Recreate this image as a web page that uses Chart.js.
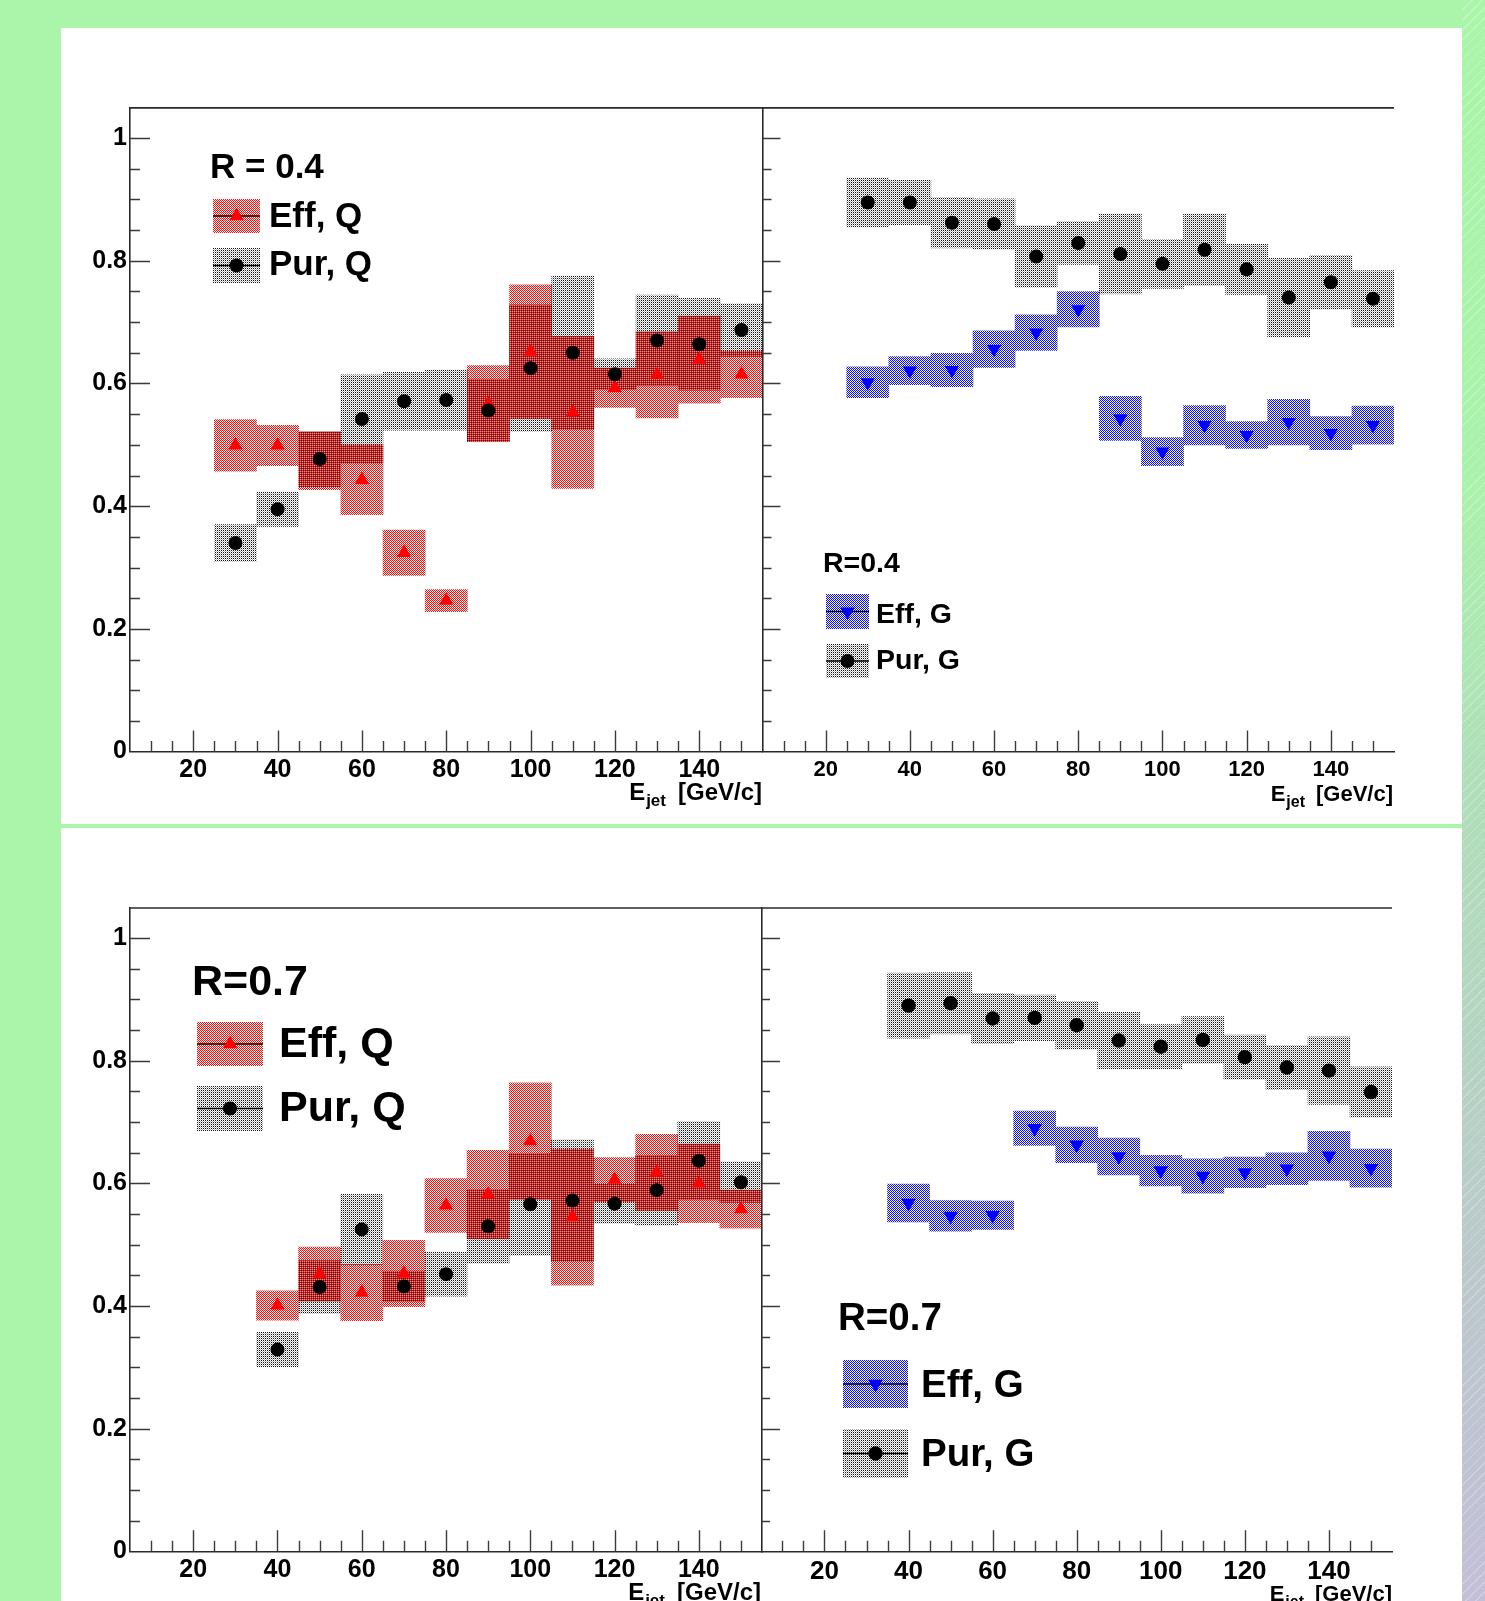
<!DOCTYPE html>
<html>
<head>
<meta charset="utf-8">
<script src="https://cdn.jsdelivr.net/npm/chart.js@4.4.1/dist/chart.umd.min.js"></script>
<style>
html,body{margin:0;padding:0;}
body{width:1485px;height:1601px;background:#aaf5aa;position:relative;overflow:hidden;}
.panel{position:absolute;background:#ffffff;}
#strip{position:absolute;left:1462px;top:0;width:23px;height:1601px;
  background:repeating-linear-gradient(135deg,rgba(255,255,255,0.25) 0 1px,transparent 1px 7px),
  linear-gradient(to bottom,#aaf5aa 0%,#aaf2ab 30%,#b0dfb9 48%,#b4d6c0 62%,#bcc8cc 80%,#c3bfd8 100%);}
canvas{position:absolute;}
</style>
</head>
<body>
<div class="panel" style="left:61px;top:28px;width:1401px;height:796px;"></div>
<div class="panel" style="left:61px;top:828px;width:1401px;height:773px;"></div>
<div id="strip"></div>
<canvas id="cTL" width="701" height="760" style="left:62px;top:60px;"></canvas>
<canvas id="cTR" width="710" height="760" style="left:752px;top:60px;"></canvas>
<canvas id="cBL" width="701" height="741" style="left:62px;top:860px;"></canvas>
<canvas id="cBR" width="710" height="741" style="left:752px;top:860px;"></canvas>
<script>
// ---------------- data ----------------
const energiesR04 = [30, 40, 50, 60, 70, 80, 90, 100, 110, 120, 130, 140, 150];
const energiesR07 = [40, 50, 60, 70, 80, 90, 100, 110, 120, 130, 140, 150];

// R = 0.4, quark jets
const effQ04    = [0.499, 0.499, 0.474, 0.443, 0.324, 0.246, 0.567, 0.652, 0.553, 0.593, 0.614, 0.639, 0.615];
const effQ04Err = [0.042, 0.033, 0.047, 0.057, 0.037, 0.018, 0.062, 0.109, 0.124, 0.032, 0.070, 0.071, 0.038];
const purQ04    = [0.340, 0.395, 0.477, 0.542, 0.571, 0.573, 0.556, 0.625, 0.650, 0.615, 0.670, 0.664, 0.687];
const purQ04Err = [0.030, 0.028, 0.045, 0.072, 0.047, 0.049, 0.051, 0.103, 0.125, 0.025, 0.074, 0.075, 0.043];

// R = 0.4, gluon jets
const effG04    = [0.602, 0.621, 0.622, 0.656, 0.683, 0.721, 0.543, 0.489, 0.532, 0.516, 0.537, 0.519, 0.532];
const effG04Err = [0.025, 0.023, 0.027, 0.030, 0.029, 0.029, 0.036, 0.023, 0.032, 0.022, 0.037, 0.027, 0.031];
const purG04    = [0.895, 0.895, 0.862, 0.860, 0.807, 0.829, 0.811, 0.795, 0.818, 0.786, 0.740, 0.765, 0.738];
const purG04Err = [0.040, 0.036, 0.041, 0.041, 0.050, 0.035, 0.065, 0.040, 0.058, 0.041, 0.064, 0.044, 0.046];

// R = 0.7, quark jets
const effQ07    = [0.401, 0.452, 0.422, 0.453, 0.564, 0.582, 0.669, 0.545, 0.606, 0.618, 0.600, 0.558];
const effQ07Err = [0.024, 0.044, 0.046, 0.054, 0.044, 0.072, 0.095, 0.111, 0.036, 0.062, 0.064, 0.031];
const purQ07    = [0.329, 0.431, 0.525, 0.432, 0.452, 0.530, 0.566, 0.572, 0.567, 0.589, 0.637, 0.602];
const purQ07Err = [0.028, 0.043, 0.057, 0.025, 0.036, 0.060, 0.083, 0.099, 0.032, 0.057, 0.064, 0.033];

// R = 0.7, gluon jets
const effG07    = [0.568, 0.547, 0.548, 0.690, 0.663, 0.644, 0.621, 0.612, 0.618, 0.624, 0.645, 0.625];
const effG07Err = [0.031, 0.025, 0.023, 0.028, 0.029, 0.030, 0.025, 0.028, 0.025, 0.026, 0.040, 0.031];
const purG07    = [0.890, 0.894, 0.869, 0.870, 0.858, 0.833, 0.823, 0.834, 0.806, 0.789, 0.784, 0.749];
const purG07Err = [0.053, 0.050, 0.041, 0.037, 0.039, 0.046, 0.036, 0.038, 0.036, 0.036, 0.055, 0.041];

// axes
const xTickValues = [20, 40, 60, 80, 100, 120, 140];
const xTickLabels = ['20', '40', '60', '80', '100', '120', '140'];
const yTickValues = [0, 0.2, 0.4, 0.6, 0.8, 1.0];
const yTickLabels = ['0', '0.2', '0.4', '0.6', '0.8', '1'];
const xRange = [5, 155];
const yRange = [0, 1.05];
const xMinorStep = 5;
const yMinorStep = 0.05;
const xTitleParts = ['E', 'jet', '[GeV/c]'];

// legend texts
const legendTitles = ['R = 0.4', 'R=0.4', 'R=0.7', 'R=0.7'];
const effLabels = ['Eff, Q', 'Eff, G', 'Eff, Q', 'Eff, G'];
const purLabels = ['Pur, Q', 'Pur, G', 'Pur, Q', 'Pur, G'];

// ---------------- styling helpers ----------------
const FONT = '"Liberation Sans", Arial, Helvetica, sans-serif';
const AXIS_COLOR = '#2a2a2a';

function tile(fn) {
  const c = document.createElement('canvas');
  c.width = 2; c.height = 2;
  fn(c.getContext('2d'));
  return c;
}
// stipple patterns: coloured pixels on a checkerboard, the rest transparent,
// so overlapping boxes combine into a darker mixed texture
const tileRed = tile(g => {
  g.fillStyle = 'rgba(255,0,0,0.95)'; g.fillRect(0,0,1,1); g.fillRect(1,1,1,1);
  g.fillStyle = 'rgba(255,0,0,0.06)'; g.fillRect(1,0,1,1); g.fillRect(0,1,1,1);
});
const tileBlue = tile(g => {
  g.fillStyle = 'rgba(0,0,255,0.95)'; g.fillRect(0,0,1,1); g.fillRect(1,1,1,1);
  g.fillStyle = 'rgba(0,0,255,0.06)'; g.fillRect(1,0,1,1); g.fillRect(0,1,1,1);
});
const tileGray = tile(g => {
  g.fillStyle = 'rgba(0,0,0,0.92)'; g.fillRect(1,0,1,1);
  g.fillStyle = 'rgba(0,0,0,0.30)'; g.fillRect(0,1,1,1);
});

function makeDeco(cfg, pats) {
  return {
    id: 'deco_' + cfg.id,
    afterDatasetsDraw(chart) {
      const ctx = chart.ctx;
      const a = chart.chartArea;
      const xs = chart.scales.x, ys = chart.scales.y;
      ctx.save();
      ctx.strokeStyle = AXIS_COLOR;
      ctx.lineWidth = 1.6;
      // top frame line
      ctx.beginPath();
      ctx.moveTo(a.left, a.top + 0.5);
      ctx.lineTo(a.right, a.top + 0.5);
      ctx.stroke();
      // x tick marks (inside the frame, pointing up)
      ctx.lineWidth = 1.4;
      ctx.strokeStyle = '#3a3a3a';
      ctx.beginPath();
      for (let v = xRange[0] + xMinorStep; v < xRange[1] - 1e-6; v += xMinorStep) {
        const px = Math.round(xs.getPixelForValue(v)) + 0.5;
        const major = xTickValues.some(t => Math.abs(t - v) < 1e-6);
        const len = major ? cfg.xMajorLen : cfg.xMinorLen;
        ctx.moveTo(px, a.bottom);
        ctx.lineTo(px, a.bottom - len);
      }
      ctx.stroke();
      // y tick marks (pointing right)
      ctx.beginPath();
      for (let v = yMinorStep; v <= 1.0 + 1e-6; v += yMinorStep) {
        const py = Math.round(ys.getPixelForValue(v)) + 0.5;
        const major = yTickValues.some(t => Math.abs(t - v) < 1e-6);
        const len = major ? cfg.yMajorLen : cfg.yMinorLen;
        ctx.moveTo(a.left, py);
        ctx.lineTo(a.left + len, py);
      }
      ctx.stroke();

      // axis title  E_jet [GeV/c]
      ctx.fillStyle = '#000';
      ctx.textBaseline = 'alphabetic';
      ctx.textAlign = 'right';
      const f = cfg.titleFont;
      const base = a.bottom + cfg.titleDy;
      let xr = cfg.titleRight - cfg.ox;
      ctx.font = 'bold ' + f + 'px ' + FONT;
      ctx.fillText(xTitleParts[2], xr, base);
      xr -= ctx.measureText(xTitleParts[2]).width + f * 0.5;
      const fs = Math.round(f * 0.72);
      ctx.font = 'bold ' + fs + 'px ' + FONT;
      ctx.fillText(xTitleParts[1], xr, base + f * 0.27);
      xr -= ctx.measureText(xTitleParts[1]).width + 1;
      ctx.font = 'bold ' + f + 'px ' + FONT;
      ctx.fillText(xTitleParts[0], xr, base);

      // legend
      const L = cfg.legend;
      const ox = cfg.ox, oy = cfg.oy;
      ctx.textAlign = 'left';
      ctx.font = 'bold ' + L.titleSize + 'px ' + FONT;
      ctx.fillText(legendTitles[cfg.idx], L.titleX - ox, L.titleY - oy);
      const rows = [
        {sw: L.effSw, text: effLabels[cfg.idx], ty: L.effTy, pat: pats.eff, style: 'triangle', rot: cfg.effRot, color: cfg.effColor, r: cfg.triR},
        {sw: L.purSw, text: purLabels[cfg.idx], ty: L.purTy, pat: pats.gray, style: 'circle', rot: 0, color: '#000', r: cfg.dotR}
      ];
      rows.forEach(r => {
        const sx = r.sw[0] - ox, sy = r.sw[1] - oy, sw = r.sw[2], sh = r.sw[3];
        ctx.fillStyle = r.pat;
        ctx.fillRect(sx, sy, sw, sh);
        const cy = sy + sh / 2;
        ctx.strokeStyle = '#000';
        ctx.lineWidth = 1.3;
        ctx.beginPath();
        ctx.moveTo(sx, cy); ctx.lineTo(sx + sw, cy);
        ctx.stroke();
        ctx.fillStyle = r.color;
        Chart.helpers.drawPoint(ctx, {pointStyle: r.style, rotation: r.rot, radius: r.r, borderWidth: 0}, sx + sw / 2, cy);
        ctx.fillStyle = '#000';
        ctx.font = 'bold ' + L.textSize + 'px ' + FONT;
        ctx.fillText(r.text, L.textX - ox, r.ty - oy);
      });
      ctx.restore();
    }
  };
}

function buildPanel(cfg) {
  const canvas = document.getElementById(cfg.id);
  const ctx = canvas.getContext('2d');
  const pats = {
    gray: ctx.createPattern(tileGray, 'repeat'),
    eff: ctx.createPattern(cfg.kind === 'Q' ? tileRed : tileBlue, 'repeat')
  };
  const E = cfg.E;
  const datasets = [
    {
      type: 'bar', label: 'pur-sys',
      data: E.map((e, i) => ({x: e, y: [cfg.pur[i] - cfg.purErr[i], cfg.pur[i] + cfg.purErr[i]]})),
      backgroundColor: pats.gray, borderWidth: 0, grouped: false,
      barPercentage: 1, categoryPercentage: 1, order: 3
    },
    {
      type: 'bar', label: 'eff-sys',
      data: E.map((e, i) => ({x: e, y: [cfg.eff[i] - cfg.effErr[i], cfg.eff[i] + cfg.effErr[i]]})),
      backgroundColor: pats.eff, borderWidth: 0, grouped: false,
      barPercentage: 1, categoryPercentage: 1, order: 2
    },
    {
      type: 'scatter', label: effLabels[cfg.idx],
      data: E.map((e, i) => ({x: e, y: cfg.eff[i]})),
      pointStyle: 'triangle', pointRotation: cfg.effRot, pointRadius: cfg.triR,
      pointBackgroundColor: cfg.effColor, pointBorderWidth: 0, showLine: false, order: 1
    },
    {
      type: 'scatter', label: purLabels[cfg.idx],
      data: E.map((e, i) => ({x: e, y: cfg.pur[i]})),
      pointStyle: 'circle', pointRadius: cfg.dotR,
      pointBackgroundColor: '#000', pointBorderWidth: 0, showLine: false, order: 0
    }
  ];
  new Chart(ctx, {
    type: 'bar',
    data: {datasets},
    options: {
      responsive: false,
      animation: false,
      devicePixelRatio: 1,
      events: [],
      layout: {autoPadding: false, padding: {left: 0, right: cfg.padRight, top: cfg.padTop, bottom: 0}},
      plugins: {legend: {display: false}, tooltip: {enabled: false}},
      scales: {
        x: {
          type: 'linear', min: xRange[0], max: xRange[1], offset: false,
          afterBuildTicks: s => { s.ticks = xTickValues.map(v => ({value: v})); },
          afterFit: s => { s.height = cfg.xAxisH; s.paddingLeft = 0; s.paddingRight = 0; },
          ticks: {
            callback: (v, i) => xTickLabels[i],
            font: {family: FONT, weight: 'bold', size: cfg.xFont},
            color: '#000', padding: cfg.xPad, maxRotation: 0, autoSkip: false
          },
          grid: {display: false, drawTicks: false, tickLength: 0},
          border: {display: true, color: AXIS_COLOR, width: 1.6}
        },
        y: {
          type: 'linear', min: yRange[0], max: yRange[1],
          afterBuildTicks: s => { s.ticks = yTickValues.map(v => ({value: v})); },
          afterFit: s => { s.width = cfg.yAxisW; s.paddingTop = 0; s.paddingBottom = 0; },
          ticks: {
            display: cfg.yLabels,
            callback: (v, i) => yTickLabels[i],
            font: {family: FONT, weight: 'bold', size: cfg.yFont},
            color: '#000', padding: 3, autoSkip: false
          },
          grid: {display: false, drawTicks: false, tickLength: 0},
          border: {display: true, color: AXIS_COLOR, width: 1.6}
        }
      }
    },
    plugins: [makeDeco(cfg, pats)]
  });
}

buildPanel({
  id: 'cTL', idx: 0, ox: 62, oy: 60, kind: 'Q', effColor: '#ff0000', effRot: 0,
  E: energiesR04, eff: effQ04, effErr: effQ04Err, pur: purQ04, purErr: purQ04Err,
  padTop: 47.4, padRight: 0.5, yAxisW: 68, xAxisH: 68.4, yLabels: true, yFont: 25, xFont: 25, xPad: 4,
  yMajorLen: 20, yMinorLen: 10, xMajorLen: 21, xMinorLen: 10.5, triR: 8.2, dotR: 7,
  titleFont: 24, titleRight: 762, titleDy: 48.4,
  legend: {titleX: 210, titleY: 178, titleSize: 35, textX: 269, textSize: 35,
           effSw: [213, 199, 47, 34], effTy: 227, purSw: [213, 248, 47, 35], purTy: 275}
});
buildPanel({
  id: 'cTR', idx: 1, ox: 752, oy: 60, kind: 'G', effColor: '#0000ff', effRot: 180,
  E: energiesR04, eff: effG04, effErr: effG04Err, pur: purG04, purErr: purG04Err,
  padTop: 47.4, padRight: 68, yAxisW: 10.5, xAxisH: 68.4, yLabels: false, yFont: 25, xFont: 22, xPad: 5,
  yMajorLen: 18, yMinorLen: 9, xMajorLen: 21, xMinorLen: 10.5, triR: 8.2, dotR: 7,
  titleFont: 22, titleRight: 1393, titleDy: 49,
  legend: {titleX: 823, titleY: 572, titleSize: 28.5, textX: 876, textSize: 28.5,
           effSw: [826, 594, 43, 35], effTy: 623, purSw: [826, 644, 43, 34], purTy: 669}
});
buildPanel({
  id: 'cBL', idx: 2, ox: 62, oy: 860, kind: 'Q', effColor: '#ff0000', effRot: 0,
  E: energiesR07, eff: effQ07, effErr: effQ07Err, pur: purQ07, purErr: purQ07Err,
  padTop: 47.5, padRight: 1, yAxisW: 68, xAxisH: 49.7, yLabels: true, yFont: 25, xFont: 25, xPad: 4,
  yMajorLen: 20, yMinorLen: 10, xMajorLen: 21, xMinorLen: 10.5, triR: 8.2, dotR: 7,
  titleFont: 24, titleRight: 761, titleDy: 48.4,
  legend: {titleX: 192, titleY: 995, titleSize: 43, textX: 279, textSize: 43,
           effSw: [197, 1022, 66, 44], effTy: 1057, purSw: [197, 1086, 66, 45], purTy: 1121}
});
buildPanel({
  id: 'cBR', idx: 3, ox: 752, oy: 860, kind: 'G', effColor: '#0000ff', effRot: 180,
  E: energiesR07, eff: effG07, effErr: effG07Err, pur: purG07, purErr: purG07Err,
  padTop: 47.5, padRight: 70, yAxisW: 9.4, xAxisH: 49.7, yLabels: false, yFont: 25, xFont: 26, xPad: 5,
  yMajorLen: 18.5, yMinorLen: 8.6, xMajorLen: 21, xMinorLen: 10.5, triR: 8.4, dotR: 7.2,
  titleFont: 22, titleRight: 1392, titleDy: 49.5,
  legend: {titleX: 838, titleY: 1330, titleSize: 38.5, textX: 921, textSize: 38.5,
           effSw: [843, 1360, 65, 48], effTy: 1397, purSw: [843, 1429, 65, 49], purTy: 1466}
});
</script>
</body>
</html>
